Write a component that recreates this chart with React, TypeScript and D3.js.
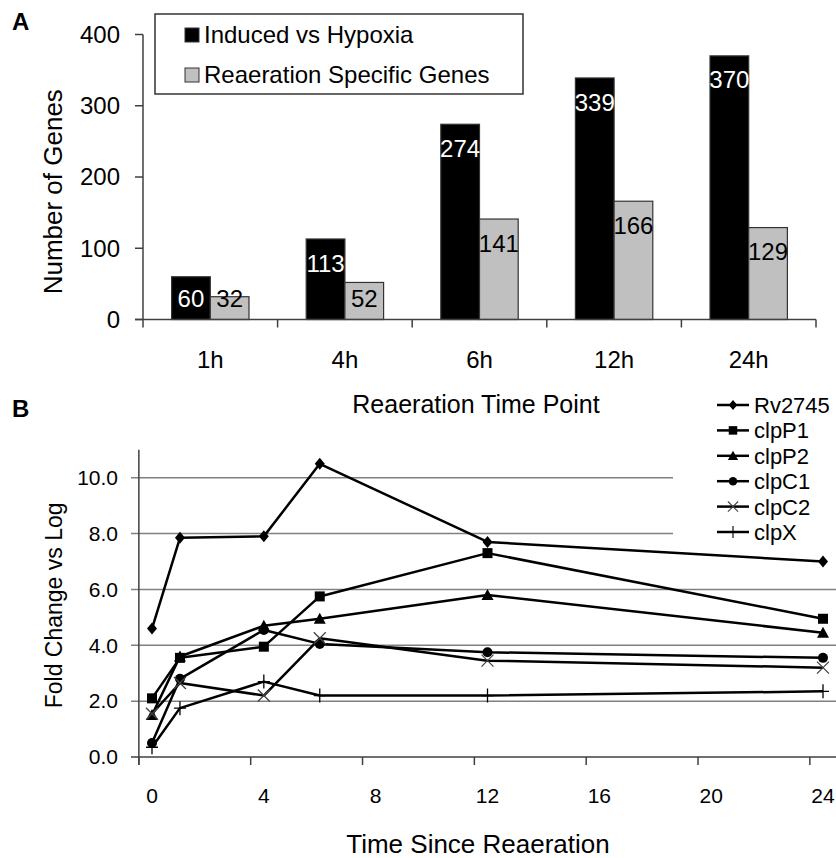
import React from "react";
import * as d3 from "d3";

// ---------- Panel A data ----------
const categories = ["1h", "4h", "6h", "12h", "24h"];
const barSeries = ["Induced vs Hypoxia", "Reaeration Specific Genes"];
const inducedVsHypoxia = [60, 113, 274, 339, 370];
const reaerationSpecific = [32, 52, 141, 166, 129];
const barTicks = [0, 100, 200, 300, 400];

// ---------- Panel B data ----------
const timePoints = [0, 1, 4, 6, 12, 24];
const lineNames = ["Rv2745", "clpP1", "clpP2", "clpC1", "clpC2", "clpX"];
const rv2745 = [4.6, 7.85, 7.9, 10.5, 7.7, 7.0];
const clpP1 = [2.1, 3.55, 3.95, 5.75, 7.3, 4.95];
const clpP2 = [1.5, 3.6, 4.7, 4.95, 5.8, 4.45];
const clpC1 = [0.5, 2.8, 4.55, 4.05, 3.75, 3.55];
const clpC2 = [1.55, 2.65, 2.2, 4.25, 3.45, 3.2];
const clpX = [0.35, 1.75, 2.7, 2.2, 2.2, 2.35];
const lineTicksX = [0, 4, 8, 12, 16, 20, 24];
const lineTicksY = [0, 2, 4, 6, 8, 10];

const FONT = "'Liberation Sans', Arial, Helvetica, sans-serif";
const AXIS = "#404040";

type MarkerKind = "diamond" | "square" | "triangle" | "circle" | "times" | "plus";
const markerKinds: MarkerKind[] = ["diamond", "square", "triangle", "circle", "times", "plus"];

function Marker({ kind, x, y, s = 1 }: { kind: MarkerKind; x: number; y: number; s?: number }) {
  const t = `translate(${x},${y}) scale(${s})`;
  switch (kind) {
    case "diamond":
      return <path transform={t} d="M0,-6L5,0L0,6L-5,0Z" fill="#000" />;
    case "square":
      return <rect transform={t} x={-5} y={-5} width={10} height={10} fill="#000" />;
    case "triangle":
      return <path transform={t} d="M0,-6L6,5L-6,5Z" fill="#000" />;
    case "circle":
      return <circle transform={t} r={5} fill="#000" />;
    case "times":
      return <path transform={t} d="M-6,-6L6,6M-6,6L6,-6" stroke="#444" strokeWidth={1.3} fill="none" />;
    case "plus":
      return <path transform={t} d="M0,-7L0,7M-6,0L6,0" stroke="#000" strokeWidth={1.3} fill="none" />;
  }
}

export default function App() {
  const W = 836;
  const H = 858;

  // ---------- Panel A scales ----------
  const yBar = d3.scaleLinear().domain([0, 400]).range([319.5, 34.5]);
  const x0 = d3.scaleBand<string>().domain(categories).range([143, 816]);
  const bw = x0.bandwidth();
  const x1 = d3.scaleBand<string>().domain(barSeries).range([bw * 0.2125, bw * 0.7875]);
  const barValues = [inducedVsHypoxia, reaerationSpecific];
  const barFill = ["#000000", "#c0c0c0"];
  const labelFill = ["#ffffff", "#000000"];

  // ---------- Panel B scales ----------
  const xLine = d3.scaleLinear().domain([0, 24]).range([152, 823]);
  const yLine = d3.scaleLinear().domain([0, 11]).range([757, 449.8]);
  const TICK_SHIFT = -0.47;
  const axisX = xLine(TICK_SHIFT);
  const lineSeries = [rv2745, clpP1, clpP2, clpC1, clpC2, clpX];
  const lineGen = d3
    .line<number>()
    .x((_, i) => xLine(timePoints[i]))
    .y((d) => yLine(d));

  const boundaries = [...categories.map((c) => x0(c) as number), 816];

  return (
    <svg
      width={W}
      height={H}
      style={{ position: "absolute", left: 0, top: 0, background: "#fff" }}
      fontFamily={FONT}
    >
      <rect width={W} height={H} fill="#fff" />

      {/* ================= Panel A ================= */}
      <text x={12} y={30} fontSize={24} fontWeight="bold">A</text>

      {/* y axis */}
      <line x1={143} x2={143} y1={yBar(400)} y2={yBar(0)} stroke={AXIS} strokeWidth={1.5} />
      {barTicks.map((t) => (
        <g key={t}>
          <line x1={135} x2={143} y1={yBar(t)} y2={yBar(t)} stroke={AXIS} strokeWidth={1.5} />
          <text x={120} y={yBar(t)} dy="0.35em" fontSize={24} textAnchor="end">{t}</text>
        </g>
      ))}
      <text
        transform={`translate(62,${(yBar(0) + 34) / 2 + 15}) rotate(-90)`}
        fontSize={26}
        textAnchor="middle"
      >
        Number of Genes
      </text>

      {/* bars */}
      {categories.map((c, ci) => (
        <g key={c} transform={`translate(${x0(c)},0)`}>
          {barSeries.map((s, si) => {
            const v = barValues[si][ci];
            const bx = x1(s) as number;
            const top = yBar(v);
            const baseline = Math.min(top + 32.6, yBar(0) - 12.8);
            return (
              <g key={s}>
                <rect
                  x={bx}
                  y={top}
                  width={x1.bandwidth()}
                  height={yBar(0) - top}
                  fill={barFill[si]}
                  stroke="#333"
                  strokeWidth={1.2}
                />
                <text
                  x={bx + x1.bandwidth() / 2}
                  y={baseline}
                  fontSize={24}
                  textAnchor="middle"
                  fill={labelFill[si]}
                >
                  {v}
                </text>
              </g>
            );
          })}
        </g>
      ))}

      {/* x axis */}
      <line x1={135} x2={816} y1={yBar(0)} y2={yBar(0)} stroke={AXIS} strokeWidth={1.5} />
      {boundaries.map((b, i) => (
        <line key={i} x1={b} x2={b} y1={yBar(0)} y2={yBar(0) + 8} stroke={AXIS} strokeWidth={1.5} />
      ))}
      {categories.map((c) => (
        <text key={c} x={(x0(c) as number) + bw / 2} y={368} fontSize={24} textAnchor="middle">
          {c}
        </text>
      ))}
      <text x={476} y={413} fontSize={25} textAnchor="middle">Reaeration Time Point</text>

      {/* legend A */}
      <rect x={155} y={14} width={368} height={80} fill="#fff" stroke="#333" strokeWidth={1.5} />
      {barSeries.map((s, si) => (
        <g key={s}>
          <rect x={185} y={28 + si * 40} width={14} height={14} fill={barFill[si]} stroke="#333" strokeWidth={1} />
          <text x={204} y={43 + si * 40} fontSize={24}>{s}</text>
        </g>
      ))}

      {/* ================= Panel B ================= */}
      <text x={12} y={417} fontSize={24} fontWeight="bold">B</text>

      {/* gridlines */}
      {lineTicksY.map((t) => (
        <g key={t}>
          <line
            x1={131}
            x2={836}
            y1={yLine(t)}
            y2={yLine(t)}
            stroke={t === 0 ? AXIS : "#808080"}
            strokeWidth={1.5}
          />
          <text x={118} y={yLine(t)} dy="0.35em" fontSize={21} textAnchor="end">
            {t.toFixed(1)}
          </text>
        </g>
      ))}
      {/* y axis */}
      <line x1={axisX} x2={axisX} y1={yLine(11)} y2={yLine(0) + 8} stroke={AXIS} strokeWidth={1.5} />
      {lineTicksX.map((t) => (
        <g key={t}>
          <line
            x1={xLine(t + TICK_SHIFT)}
            x2={xLine(t + TICK_SHIFT)}
            y1={yLine(0)}
            y2={yLine(0) + 8}
            stroke={AXIS}
            strokeWidth={1.5}
          />
          <text x={xLine(t)} y={803} fontSize={21} textAnchor="middle">{t}</text>
        </g>
      ))}
      <text
        transform={`translate(62,${yLine(5.5) + 2}) rotate(-90)`}
        fontSize={23}
        textAnchor="middle"
      >
        Fold Change vs Log
      </text>
      <text x={478} y={853} fontSize={26} textAnchor="middle">Time Since Reaeration</text>

      {/* legend B background */}
      <rect x={673} y={395} width={163} height={151} fill="#fff" />

      {/* lines */}
      {lineSeries.map((vals, si) => (
        <g key={lineNames[si]}>
          <path d={lineGen(vals) as string} fill="none" stroke="#000" strokeWidth={2.5} strokeLinejoin="round" />
          {vals.map((v, i) => (
            <Marker key={i} kind={markerKinds[si]} x={xLine(timePoints[i])} y={yLine(v)} />
          ))}
        </g>
      ))}

      {/* legend B */}
      {lineNames.map((n, i) => {
        const cy = 405 + i * 25.4;
        return (
          <g key={n}>
            <line x1={717} x2={749} y1={cy} y2={cy} stroke="#000" strokeWidth={2.5} />
            <Marker kind={markerKinds[i]} x={733} y={cy} s={0.85} />
            <text x={754} y={cy} dy="0.36em" fontSize={22}>{n}</text>
          </g>
        );
      })}
    </svg>
  );
}
